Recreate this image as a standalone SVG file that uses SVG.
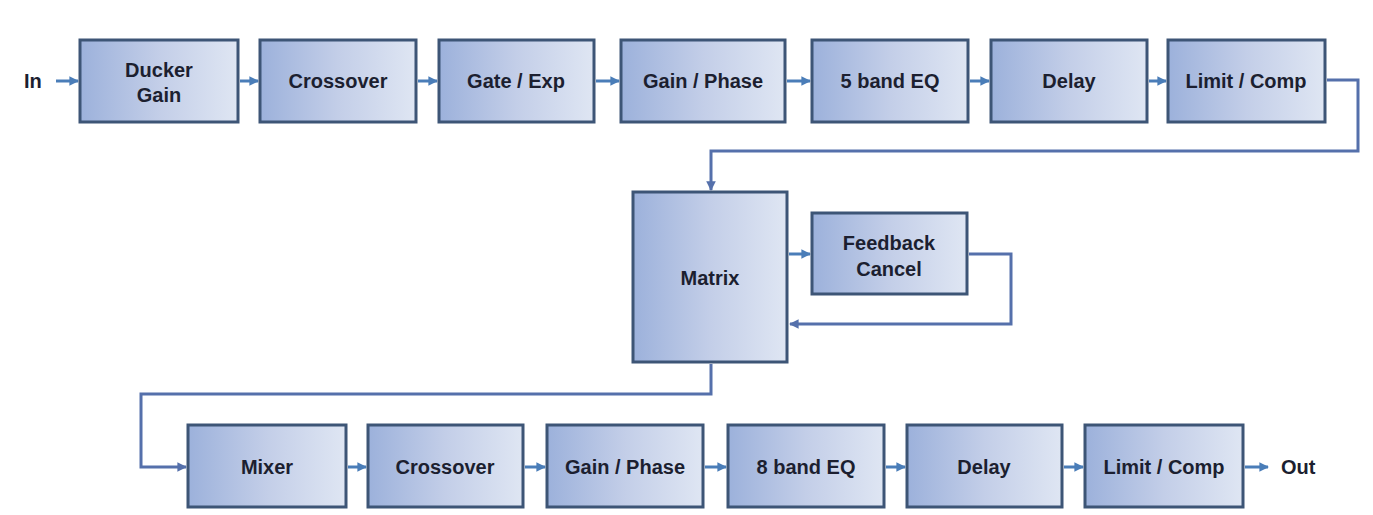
<svg xmlns="http://www.w3.org/2000/svg" width="1373" height="515" viewBox="0 0 1373 515">
<defs>
<linearGradient id="g" x1="0" y1="0" x2="1" y2="0">
<stop offset="0" stop-color="#9cb1db"/>
<stop offset="0.5" stop-color="#c3cee8"/>
<stop offset="1" stop-color="#dfe6f3"/>
</linearGradient>
<marker id="ah" viewBox="0 0 10 10" refX="9" refY="5" markerWidth="3.2" markerHeight="3.2" orient="auto" markerUnits="strokeWidth">
<path d="M0,0 L10,5 L0,10 z" fill="#4a7db8"/>
</marker>
<marker id="ah2" viewBox="0 0 10 10" refX="9" refY="5" markerWidth="3.2" markerHeight="3.2" orient="auto" markerUnits="strokeWidth">
<path d="M0,0 L10,5 L0,10 z" fill="#5570ab"/>
</marker>
</defs>
<style>
.box{fill:url(#g);stroke:#3d5576;stroke-width:3}
.t{font-family:"Liberation Sans",Arial,sans-serif;font-weight:bold;font-size:20px;fill:#1c1f30;text-anchor:middle}
.l{font-family:"Liberation Sans",Arial,sans-serif;font-weight:bold;font-size:20px;fill:#1c1f30}
.a{fill:none;stroke:#4a7db8;stroke-width:3;marker-end:url(#ah)}
.c{fill:none;stroke:#5570ab;stroke-width:3;marker-end:url(#ah2)}
</style>
<rect width="1373" height="515" fill="#ffffff"/>
<text class="l" x="24" y="88">In</text>
<text class="l" x="1281" y="474">Out</text>
<g id="connectors">
<path class="a" d="M56,81 H78"/>
<path class="a" d="M240,81 H258"/>
<path class="a" d="M418,81 H437"/>
<path class="a" d="M596,81 H619"/>
<path class="a" d="M787,81 H810"/>
<path class="a" d="M970,81 H989"/>
<path class="a" d="M1149,81 H1166"/>
<path class="c" d="M1327,80 H1358 V151 H711 V190"/>
<path class="a" d="M789,254 H810"/>
<path class="c" d="M969,254 H1011 V324 H790"/>
<path class="c" d="M711,364 V394 H141 V467 H186"/>
<path class="a" d="M348,467 H366"/>
<path class="a" d="M525,467 H545"/>
<path class="a" d="M705,467 H726"/>
<path class="a" d="M886,467 H905"/>
<path class="a" d="M1064,467 H1083"/>
<path class="a" d="M1245,467 H1268"/>
</g>
<g id="n-ducker"><rect class="box" x="80" y="40" width="158" height="82"/><text class="t" x="159" y="77">Ducker</text><text class="t" x="159" y="102">Gain</text></g>
<g id="n-crossover1"><rect class="box" x="260" y="40" width="156" height="82"/><text class="t" x="338" y="88">Crossover</text></g>
<g id="n-gate"><rect class="box" x="439" y="40" width="155" height="82"/><text class="t" x="516" y="88">Gate / Exp</text></g>
<g id="n-gainphase1"><rect class="box" x="621" y="40" width="164" height="82"/><text class="t" x="703" y="88">Gain / Phase</text></g>
<g id="n-eq5"><rect class="box" x="812" y="40" width="156" height="82"/><text class="t" x="890" y="88">5 band EQ</text></g>
<g id="n-delay1"><rect class="box" x="991" y="40" width="156" height="82"/><text class="t" x="1069" y="88">Delay</text></g>
<g id="n-limit1"><rect class="box" x="1168" y="40" width="157" height="82"/><text class="t" x="1246" y="88">Limit / Comp</text></g>
<g id="n-matrix"><rect class="box" x="633" y="192" width="154" height="170"/><text class="t" x="710" y="285">Matrix</text></g>
<g id="n-feedback"><rect class="box" x="812" y="213" width="155" height="81"/><text class="t" x="889" y="250">Feedback</text><text class="t" x="889" y="276">Cancel</text></g>
<g id="n-mixer"><rect class="box" x="188" y="425" width="158" height="82"/><text class="t" x="267" y="474">Mixer</text></g>
<g id="n-crossover2"><rect class="box" x="368" y="425" width="155" height="82"/><text class="t" x="445" y="474">Crossover</text></g>
<g id="n-gainphase2"><rect class="box" x="547" y="425" width="156" height="82"/><text class="t" x="625" y="474">Gain / Phase</text></g>
<g id="n-eq8"><rect class="box" x="728" y="425" width="156" height="82"/><text class="t" x="806" y="474">8 band EQ</text></g>
<g id="n-delay2"><rect class="box" x="907" y="425" width="155" height="82"/><text class="t" x="984" y="474">Delay</text></g>
<g id="n-limit2"><rect class="box" x="1085" y="425" width="158" height="82"/><text class="t" x="1164" y="474">Limit / Comp</text></g>
</svg>
